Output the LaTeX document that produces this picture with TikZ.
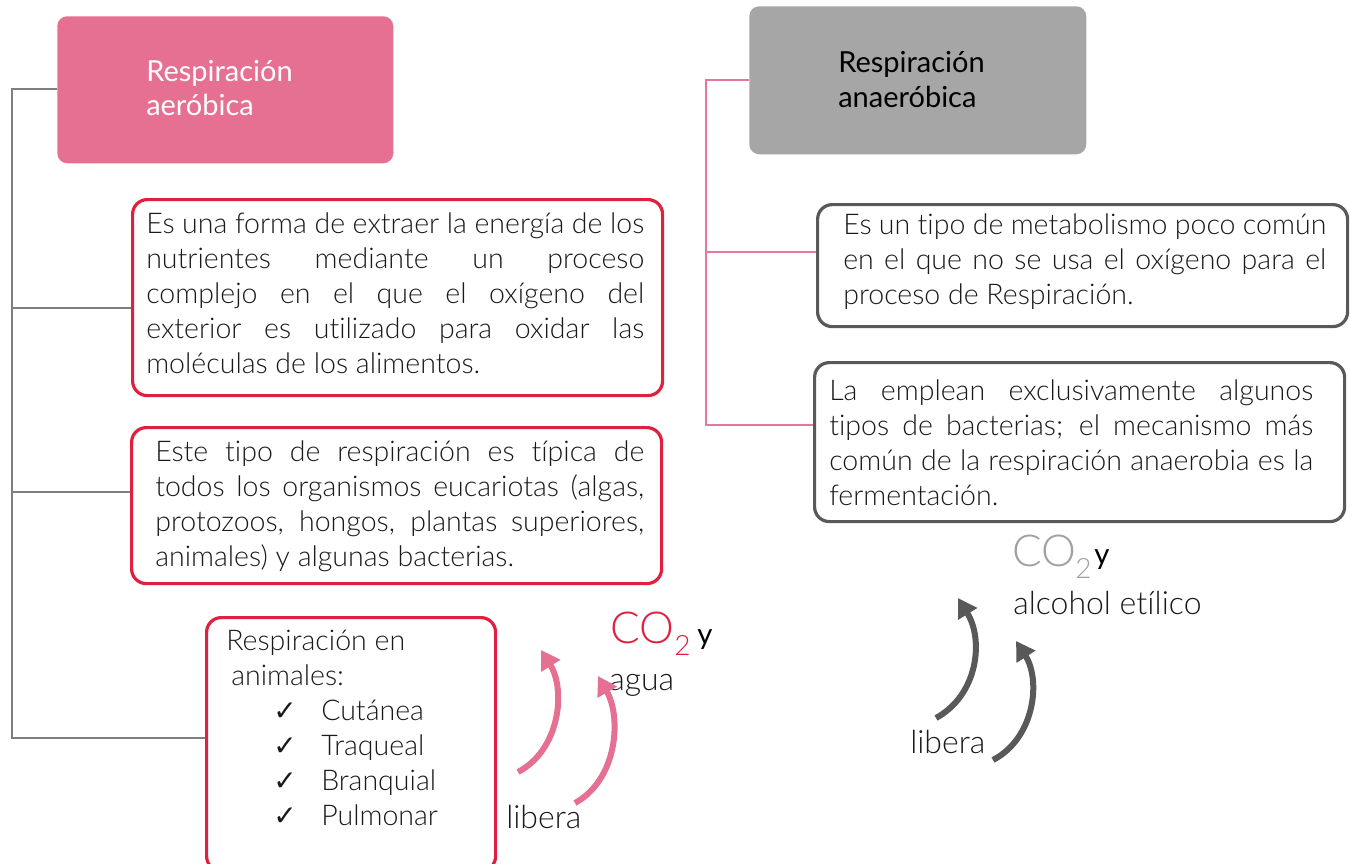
\documentclass[tikz,border=0pt]{standalone}
\usepackage{fontspec}
\setmainfont{Lato Light}[Ligatures=NoCommon]
\newfontfamily\latoreg{Lato}[Ligatures=NoCommon]
\newfontfamily\djv{DejaVu Sans}
\usetikzlibrary{arrows.meta}
\definecolor{pinkf}{HTML}{E57092}
\definecolor{redc}{HTML}{E0203F}
\definecolor{grayf}{HTML}{A6A6A6}
\definecolor{darkb}{HTML}{595959}
\definecolor{linegray}{HTML}{7F7F7F}
\definecolor{linepink}{HTML}{E8769A}
\definecolor{coGray}{HTML}{A0A0A0}
\definecolor{txt}{HTML}{1A1A1A}
\newcommand\jl[1]{\makebox[\linewidth][s]{#1}\par}
\newcommand\para[2]{\parbox[t]{#1}{\fontsize{21.4}{26.25}\selectfont #2}}
\newcommand\chk[1]{\hspace*{35.25pt}\makebox[36pt][l]{\djv\bfseries\fontsize{21}{21}\selectfont ✓}#1\par}
\tikzset{
  hdr/.style={inner sep=0, anchor=north west, rounded corners=7.5pt},
  rbox/.style={draw=redc, line width=2.4pt, rounded corners=11pt, inner sep=0, anchor=north west},
  gbox/.style={draw=darkb, line width=2.4pt, rounded corners=11pt, inner sep=0, anchor=north west},
  txtnode/.style={anchor=base west, inner sep=0, text=txt},
  lbl/.style={anchor=base west, inner sep=0, text=txt, font=\fontsize{24}{24}\selectfont},
  gline/.style={draw=linegray, line width=1.5pt},
  pline/.style={draw=linepink, line width=1.5pt},
  parrow/.style={draw=pinkf, line width=4.5pt, -{Triangle[length=14pt,width=16pt]}},
  darrow/.style={draw=darkb, line width=4.5pt, -{Triangle[length=14pt,width=16pt]}}
}
\begin{document}
\begin{tikzpicture}[x=0.75pt,y=-0.75pt]
\clip (0,0) rectangle (1350,864);
\fill[white] (0,0) rectangle (1350,864);

% headers
\node[hdr, fill=pinkf, minimum width=252pt, minimum height=110.25pt] (hA) at (57,16) {};
\node[hdr, fill=grayf, minimum width=252.75pt, minimum height=111pt] (hB) at (749,6) {};
\node[txtnode, text=white] (hAt) at (146,81) {\parbox[t]{200pt}{\latoreg\fontsize{21.75}{25.5}\selectfont Respiración\par aeróbica}};
\node[txtnode, text=black] (hBt) at (838,72) {\parbox[t]{200pt}{\latoreg\fontsize{21.75}{26.25}\selectfont Respiración\par anaeróbica}};

% left boxes
\node[rbox, minimum width=397.5pt, minimum height=147pt] (A1) at (131,198) {};
\node[rbox, minimum width=397.5pt, minimum height=117pt] (A2) at (130,426) {};
\node[rbox, minimum width=216.75pt, minimum height=190pt] (A3) at (205,616) {};

\node[txtnode] (tA1) at (146,233) {\para{373.5pt}{\jl{Es una forma de extraer la energía de los}\jl{nutrientes mediante un proceso}\jl{complejo en el que el oxígeno del}\jl{exterior es utilizado para oxidar las}moléculas de los alimentos.}};
\node[txtnode] (tA2) at (155,461) {\para{366.75pt}{\jl{Este tipo de respiración es típica de}\jl{todos los organismos eucariotas (algas,}\jl{protozoos, hongos, plantas superiores,}animales) y algunas bacterias.}};
\node[txtnode] (tA3) at (226,650) {\para{210pt}{Respiración en\par\hspace*{3.75pt}animales:\par\chk{Cutánea}\chk{Traqueal}\chk{Branquial}\chk{Pulmonar}}};

% right boxes
\node[gbox, minimum width=397.5pt, minimum height=91.5pt] (B1) at (816,203) {};
\node[gbox, minimum width=397.5pt, minimum height=119.25pt] (B2) at (813,361) {};
\node[txtnode] (tB1) at (843,234) {\para{362.25pt}{\jl{Es un tipo de metabolismo poco común}\jl{en el que no se usa el oxígeno para el}proceso de Respiración.}};
\node[txtnode] (tB2) at (829,400) {\para{363pt}{\jl{La emplean exclusivamente algunos}\jl{tipos de bacterias; el mecanismo más}\jl{común de la respiración anaerobia es la}fermentación.}};

% connectors left
\coordinate (sa1) at (12,89);
\coordinate (sa2) at (12,738);
\coordinate (ba1) at (12,308);
\coordinate (ba2) at (12,492);
\draw[gline] (sa1 -| hA.west) -- (sa1) -- (sa2) -- (sa2 -| A3.west);
\draw[gline] (ba1) -- (ba1 -| A1.west);
\draw[gline] (ba2) -- (ba2 -| A2.west);

% connectors right
\coordinate (sb1) at (706,80);
\coordinate (sb2) at (706,425);
\coordinate (bb1) at (706,252);
\draw[pline] (sb1 -| hB.west) -- (sb1) -- (sb2) -- (sb2 -| B2.west);
\draw[pline] (bb1) -- (bb1 -| B1.west);

% products left
\node[txtnode, text=redc] (coA) at (610,643) {\fontsize{33}{33}\selectfont CO};
\node[txtnode, text=redc] (twoA) at (674,655) {\fontsize{21}{21}\selectfont 2};
\node[txtnode, text=black] (yA) at (697,644) {\latoreg\fontsize{22}{22}\selectfont y};
\node[lbl] (agua) at (609,690) {agua};
\node[lbl] (libA) at (506,828) {libera};
\coordinate (pa1s) at (518,772);
\coordinate (pa1e) at (541,650);
\coordinate (pa2s) at (575,803);
\coordinate (pa2e) at (598,676);
\draw[parrow] (pa1s) .. controls (560,750) and (566,690) .. (pa1e);
\draw[parrow] (pa2s) .. controls (617,780) and (622,718) .. (pa2e);

% products right
\node[txtnode, text=coGray] (coB) at (1012,566) {\fontsize{33}{33}\selectfont CO};
\node[txtnode, text=coGray] (twoB) at (1075,578) {\fontsize{21}{21}\selectfont 2};
\node[txtnode, text=black] (yB) at (1094,564) {\latoreg\fontsize{22}{22}\selectfont y};
\node[lbl] (alc) at (1013,614) {alcohol etílico};
\node[lbl] (libB) at (910,753) {libera};
\coordinate (pb1s) at (936,718);
\coordinate (pb1e) at (958,598);
\coordinate (pb2s) at (993,760);
\coordinate (pb2e) at (1016,641);
\draw[darrow] (pb1s) .. controls (978,695) and (984,640) .. (pb1e);
\draw[darrow] (pb2s) .. controls (1035,738) and (1041,680) .. (pb2e);
\end{tikzpicture}
\end{document}
